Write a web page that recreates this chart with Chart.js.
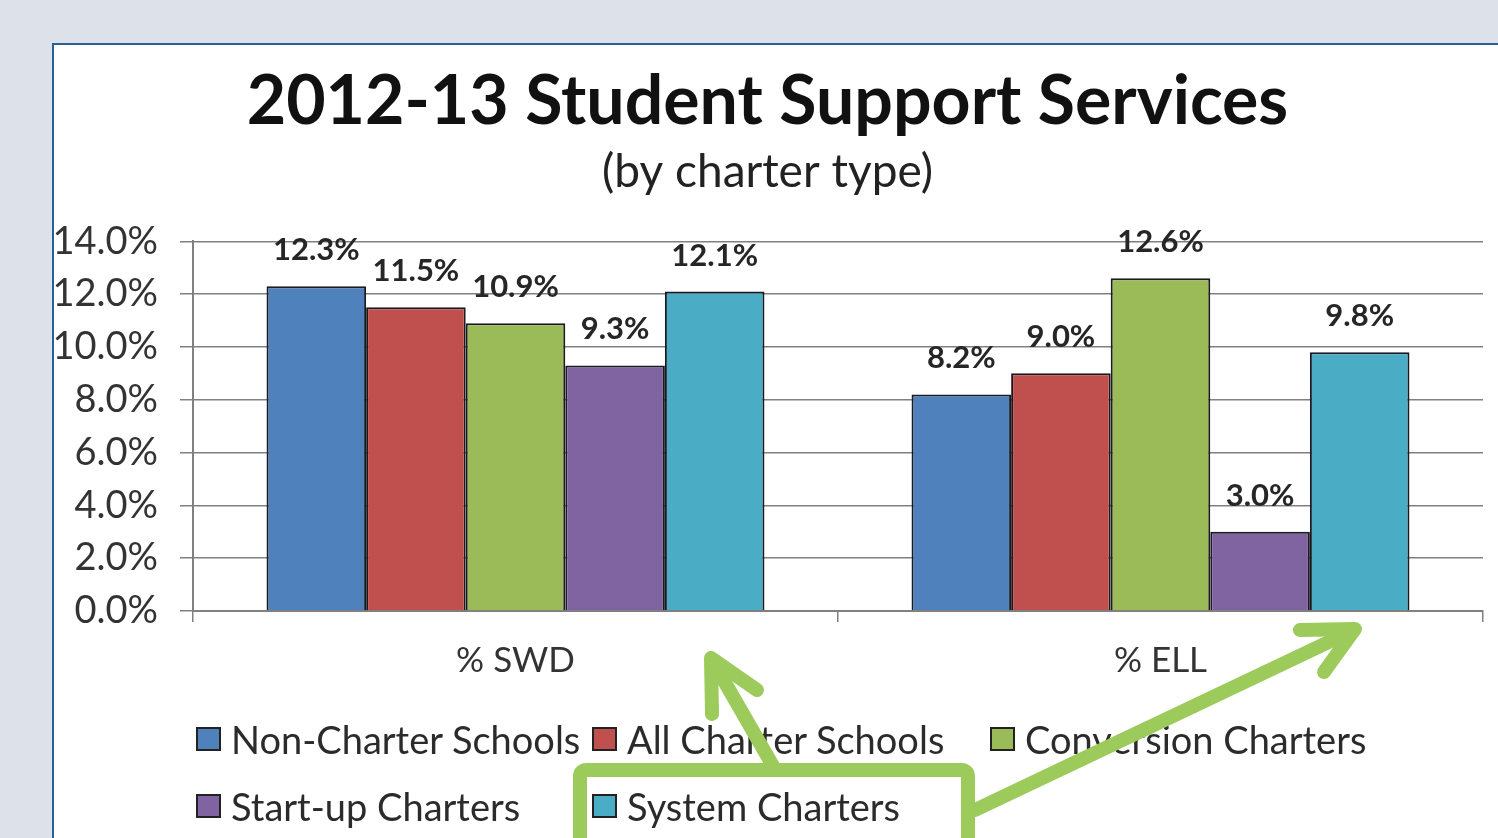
<!DOCTYPE html>
<html>
<head>
<meta charset="utf-8">
<script src="https://cdn.jsdelivr.net/npm/chart.js@4.4.0/dist/chart.umd.min.js"></script>
<style>
  html, body { margin: 0; padding: 0; width: 1498px; height: 838px; overflow: hidden; background: #dce1ea; font-family: Lato, "Open Sans", sans-serif; }
  #panel { position: absolute; left: 52px; top: 43px; width: 1500px; height: 900px; background: #fff; border-left: 2px solid #2a5f98; border-top: 2px solid #2a5f98; }
  #wrap { position: absolute; left: 0; top: 0; width: 1498px; height: 838px; }
  #legend { position: absolute; left: 0; top: 0; width: 1498px; height: 838px; pointer-events: none; }
  .li { position: absolute; display: flex; align-items: center; font-size: 38px; color: #2b2b2b; white-space: nowrap; }
  .li .box { width: 21px; height: 20px; border: 2px solid #222; margin-right: 10px; }
  #overlay { position: absolute; left: 0; top: 0; }
</style>
</head>
<body>
<div id="panel"></div>
<div id="wrap"><canvas id="c" width="1498" height="838"></canvas></div>
<div id="legend"></div>
<svg id="overlay" width="1498" height="838">
  <g fill="none" stroke="#9ccb5c" stroke-width="14" stroke-linecap="round" stroke-linejoin="round">
    <rect x="580" y="770" width="388" height="120" rx="6"/>
    <line x1="773" y1="766" x2="712" y2="660"/>
    <polyline points="757,690 711,658 712,714"/>
    <line x1="975" y1="810" x2="1354" y2="630"/>
    <polyline points="1300,630 1355,629 1324,672"/>
  </g>
</svg>
<script>
const categories = ["% SWD", "% ELL"];
const seriesNames = ["Non-Charter Schools", "All Charter Schools", "Conversion Charters", "Start-up Charters", "System Charters"];
const nonCharter = [12.3, 8.2];
const allCharter = [11.5, 9.0];
const conversion = [10.9, 12.6];
const startup = [9.3, 3.0];
const system = [12.1, 9.8];
const yTicks = [0, 2, 4, 6, 8, 10, 12, 14];
const colors = ["#4f81bd", "#c0504d", "#9bbb59", "#8064a2", "#4bacc6"];

const seriesValues = [nonCharter, allCharter, conversion, startup, system];

const labelPlugin = {
  id: 'valueLabels',
  afterDatasetsDraw(chart) {
    const ctx = chart.ctx;
    ctx.save();
    ctx.font = 'bold 31px Lato, "Open Sans", sans-serif';
    ctx.fillStyle = '#262626';
    ctx.textAlign = 'center';
    ctx.textBaseline = 'middle';
    chart.data.datasets.forEach((ds, i) => {
      const meta = chart.getDatasetMeta(i);
      meta.data.forEach((bar, j) => {
        ctx.fillText(ds.data[j].toFixed(1) + '%', bar.x, bar.y - 36);
      });
    });
    ctx.restore();
  }
};

const chart = new Chart(document.getElementById('c'), {
  type: 'bar',
  data: {
    labels: categories,
    datasets: seriesNames.map((n, i) => ({
      label: n,
      data: seriesValues[i],
      backgroundColor: colors[i],
      borderColor: '#1a1a20',
      borderWidth: 2,
      categoryPercentage: 0.772,
      barPercentage: 1.0
    }))
  },
  options: {
    responsive: false,
    animation: false,
    layout: { padding: { top: 43, left: 52, right: 15, bottom: 127 } },
    plugins: {
      legend: { display: false },
      tooltip: { enabled: false },
      title: {
        display: true,
        text: '2012-13 Student Support Services',
        color: '#111',
        font: { family: 'Lato, "Open Sans", sans-serif', size: 68, weight: 'bold', lineHeight: 1.07 },
        padding: { top: 23, bottom: 0 }
      },
      subtitle: {
        display: true,
        text: '(by charter type)',
        color: '#222',
        font: { family: 'Lato, "Open Sans", sans-serif', size: 46, lineHeight: 1.1 },
        padding: { top: 8, bottom: 44 }
      }
    },
    scales: {
      x: {
        afterFit(scale) { scale.height = 100; },
        grid: { display: true, drawOnChartArea: false, tickLength: 11, color: '#808080', lineWidth: 1.5, offset: true },
        border: { color: '#808080', width: 2 },
        ticks: { color: '#333', padding: 18, font: { family: 'Lato, "Open Sans", sans-serif', size: 35 } }
      },
      y: {
        min: 0, max: 14,
        afterFit(scale) { scale.width = 141; },
        afterBuildTicks(scale) { scale.ticks = yTicks.map(v => ({ value: v })); },
        grid: { color: '#808080', lineWidth: 1.5, tickLength: 13 },
        border: { color: '#808080', width: 2 },
        ticks: {
          color: '#333', padding: 22,
          font: { family: 'Lato, "Open Sans", sans-serif', size: 38 },
          callback: v => Number(v).toFixed(1) + '%'
        }
      }
    }
  },
  plugins: [labelPlugin]
});

// HTML legend built from the chart's datasets
const legendPos = [[196, 740], [592, 740], [990, 740], [196, 807], [592, 807]];
const legendEl = document.getElementById('legend');
chart.data.datasets.forEach((ds, i) => {
  const d = document.createElement('div');
  d.className = 'li';
  d.style.left = legendPos[i][0] + 'px';
  d.style.top = (legendPos[i][1] - 24) + 'px';
  d.innerHTML = '<span class="box" style="background:' + ds.backgroundColor + '"></span><span>' + ds.label + '</span>';
  legendEl.appendChild(d);
});
</script>
</body>
</html>
